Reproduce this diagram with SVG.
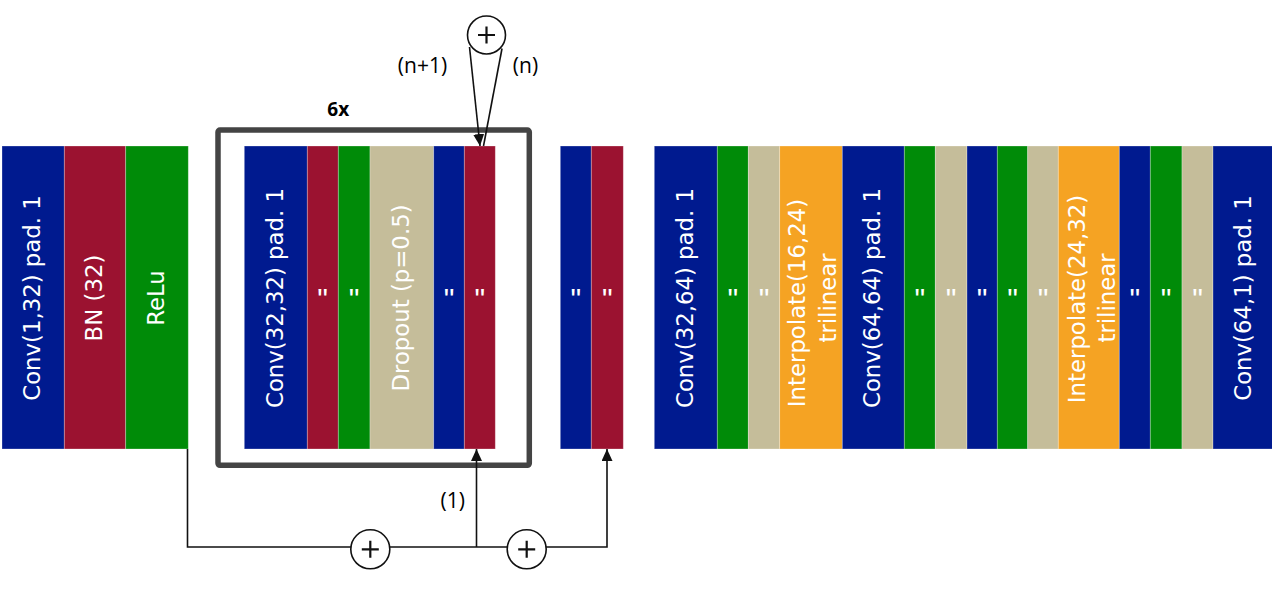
<svg xmlns="http://www.w3.org/2000/svg" width="1272" height="595" viewBox="0 0 1272 595">
<style>
.bar{stroke:#ffffff;stroke-opacity:0.35;stroke-width:0.8}
.blue{fill:#001A8F}.red{fill:#9B1230}.green{fill:#008B08}.tan{fill:#C5BD9A}.orange{fill:#F5A323}
.lbl{font-family:"DejaVu Sans",sans-serif;font-size:22.8px;fill:#ffffff;text-anchor:middle}
.q{font-family:"Liberation Sans",Arial,sans-serif;font-size:30px;fill:#ffffff;text-anchor:middle}
.ann{font-family:"Open Sans",sans-serif;font-size:21px;fill:#000000;text-anchor:middle}
.line{fill:none;stroke:#111111;stroke-width:1.6}
.circ{fill:#ffffff;stroke:#111111;stroke-width:1.6}
.plus{stroke:#111111;stroke-width:2.2}
</style>
<defs>
<marker id="arr" viewBox="0 0 12 11" markerWidth="12" markerHeight="11" refX="12" refY="5.5" orient="auto" markerUnits="userSpaceOnUse">
<path d="M0,0 L12,5.5 L0,11 Z" fill="#111111"/>
</marker>
</defs>

<g id="conv1"><rect class="bar blue" x="2" y="146" width="62.3" height="303"/><text class="lbl" transform="translate(33.2,298) rotate(-90)" x="0" y="7">Conv(1,32) pad. 1</text></g>
<g id="bn1"><rect class="bar red" x="64.3" y="146" width="61.4" height="303"/><text class="lbl" transform="translate(95,298) rotate(-90)" x="0" y="7">BN (32)</text></g>
<g id="relu1"><rect class="bar green" x="125.7" y="146" width="62.6" height="303"/><text class="lbl" transform="translate(157,298) rotate(-90)" x="0" y="7">ReLu</text></g>

<g id="block6x">
<rect x="218" y="130" width="311.3" height="335.3" rx="2" fill="none" stroke="#444444" stroke-width="5.5"/>
<text x="338.3" y="116" font-family="Open Sans, sans-serif" font-size="19" font-weight="bold" fill="#000000" text-anchor="middle">6x</text>
</g>
<g id="conv2"><rect class="bar blue" x="244.3" y="146" width="63" height="303"/><text class="lbl" transform="translate(275.8,298) rotate(-90)" x="0" y="7">Conv(32,32) pad. 1</text></g>
<g id="bn2"><rect class="bar red" x="307.3" y="146" width="31" height="303"/><text class="q" x="322.6" y="309">"</text></g>
<g id="relu2"><rect class="bar green" x="338.3" y="146" width="31.7" height="303"/><text class="q" x="354" y="309">"</text></g>
<g id="dropout1"><rect class="bar tan" x="370" y="146" width="63.7" height="303"/><text class="lbl" transform="translate(401.8,298) rotate(-90)" x="0" y="7">Dropout (p=0.5)</text></g>
<g id="conv3"><rect class="bar blue" x="433.7" y="146" width="30.6" height="303"/><text class="q" x="449" y="309">"</text></g>
<g id="bn3"><rect class="bar red" x="464.3" y="146" width="31" height="303"/><text class="q" x="479.8" y="309">"</text></g>

<g id="conv4"><rect class="bar blue" x="560.3" y="146" width="31" height="303"/><text class="q" x="575.8" y="309">"</text></g>
<g id="bn4"><rect class="bar red" x="591.3" y="146" width="32" height="303"/><text class="q" x="607.3" y="309">"</text></g>

<g id="conv5"><rect class="bar blue" x="654.3" y="146" width="63" height="303"/><text class="lbl" transform="translate(685.8,298) rotate(-90)" x="0" y="7">Conv(32,64) pad. 1</text></g>
<g id="relu5"><rect class="bar green" x="717.3" y="146" width="31" height="303"/><text class="q" x="732.8" y="309">"</text></g>
<g id="drop5"><rect class="bar tan" x="748.3" y="146" width="31.4" height="303"/><text class="q" x="764" y="309">"</text></g>
<g id="interp1"><rect class="bar orange" x="779.7" y="146" width="62.6" height="303"/><text class="lbl" transform="translate(811,298) rotate(-90)"><tspan x="-5" y="-6.5">Interpolate(16,24)</tspan><tspan x="0" y="24.5">trilinear</tspan></text></g>
<g id="conv6"><rect class="bar blue" x="842.3" y="146" width="62" height="303"/><text class="lbl" transform="translate(873.3,298) rotate(-90)" x="0" y="7">Conv(64,64) pad. 1</text></g>
<g id="relu6"><rect class="bar green" x="904.3" y="146" width="31" height="303"/><text class="q" x="919.8" y="309">"</text></g>
<g id="drop6"><rect class="bar tan" x="935.3" y="146" width="31.7" height="303"/><text class="q" x="951.2" y="309">"</text></g>
<g id="conv7"><rect class="bar blue" x="967" y="146" width="30.3" height="303"/><text class="q" x="982.2" y="309">"</text></g>
<g id="relu7"><rect class="bar green" x="997.3" y="146" width="30.4" height="303"/><text class="q" x="1012.5" y="309">"</text></g>
<g id="drop7"><rect class="bar tan" x="1027.7" y="146" width="30.6" height="303"/><text class="q" x="1043" y="309">"</text></g>
<g id="interp2"><rect class="bar orange" x="1058.3" y="146" width="61" height="303"/><text class="lbl" transform="translate(1088.8,298) rotate(-90)"><tspan x="-1" y="-3.5">Interpolate(24,32)</tspan><tspan x="0" y="26">trilinear</tspan></text></g>
<g id="conv8"><rect class="bar blue" x="1119.3" y="146" width="31" height="303"/><text class="q" x="1134.8" y="309">"</text></g>
<g id="relu8"><rect class="bar green" x="1150.3" y="146" width="31.7" height="303"/><text class="q" x="1166.2" y="309">"</text></g>
<g id="drop8"><rect class="bar tan" x="1182" y="146" width="31" height="303"/><text class="q" x="1197.5" y="309">"</text></g>
<g id="conv9"><rect class="bar blue" x="1213" y="146" width="61" height="303"/><text class="lbl" transform="translate(1243.5,298) rotate(-90)" x="0" y="7">Conv(64,1) pad. 1</text></g>

<g id="sumTop"><circle class="circ" cx="486.5" cy="35" r="19"/><path class="plus" d="M478,35 H495 M486.5,26.5 V43.5"/></g>
<g id="sum1"><circle class="circ" cx="370.3" cy="549.3" r="19.5"/><path class="plus" d="M361.8,549.3 H378.8 M370.3,540.8 V557.8"/></g>
<g id="sum2"><circle class="circ" cx="526.7" cy="549.3" r="19.5"/><path class="plus" d="M518.2,549.3 H535.2 M526.7,540.8 V557.8"/></g>

<g id="connectors">
<path class="line" d="M469.5,47 L480,146" marker-end="url(#arr)"/>
<path class="line" d="M483.5,146 L502,48.5"/>
<path class="line" d="M187.5,449 V547 H351"/>
<path class="line" d="M389.6,547 H507.4"/>
<path class="line" d="M476.5,547 V449" marker-end="url(#arr)"/>
<path class="line" d="M546,547 H607 V449" marker-end="url(#arr)"/>
<text class="ann" x="422.5" y="73">(n+1)</text>
<text class="ann" x="525.5" y="73">(n)</text>
<text class="ann" x="452.7" y="508">(1)</text>
</g>
</svg>
